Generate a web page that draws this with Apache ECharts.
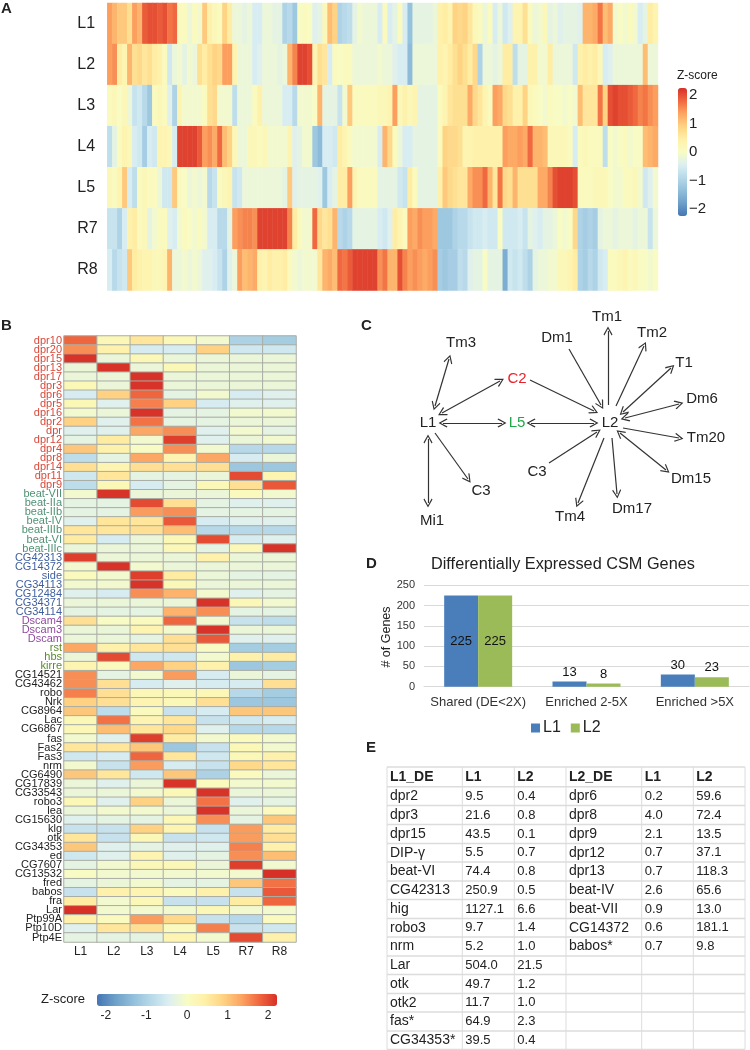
<!DOCTYPE html>
<html><head><meta charset="utf-8">
<style>html,body{margin:0;padding:0;background:#fff}#c{width:750px;height:1050px}</style>
<script src="https://cdn.jsdelivr.net/npm/echarts@6/dist/echarts.min.js"></script>
</head><body><div id="c"></div>
<script>
// ---------- Panel A: z-score x 10, one value per column ----------
const aRows = ['L1','L2','L3','L4','L5','R7','R8'];
const aL1 = [14,12,10,10,7,14,12,19,20,20, 19,20,17,18,1,1,-2,1,-1,10, 4,2,1,9,5,-2,-2,-3,-2,-5, -5,-2,-2,-3,-3,-10,-9,-12,0,1, 0,-4,-3,2,11,9,-10,-9,-8,-3, -1,-2,-2,-2,-5,1,-5,-3,1,-5, -13,-3,-3,-3,-3,-2,4,5,3,9, 8,9,6,2,1,-2,1,-5,-2,-6, -4,3,3,7,1,-2,-1,2,-3,-2, -4,-3,-3,-3,-4,12,12,13,17,11, 13,-1,0,-1,1,-1,-5,-3,5,3];
const aL2 = [14,15,5,3,12,7,8,6,7,5, 4,1,-6,-2,-1,-3,-1,-2,7,5, 7,9,8,14,14,3,-2,-2,-2,-5, -4,-2,-2,-2,-3,-2,12,16,21,21, 20,3,7,6,-5,1,0,1,1,-2, -2,-2,-2,-2,-1,-2,-2,-4,-5,-5, -14,-2,-2,-2,-2,-2,4,3,5,7, 9,7,5,8,-10,-2,-2,-3,-2,5, 5,-8,-3,-3,4,4,-1,-1,5,-2, -2,-2,-2,-6,4,5,4,5,2,-5, -4,-2,-2,-2,-2,-2,-2,11,-2,-2];
const aL3 = [1,2,0,2,-2,-7,-6,-9,-12,1, 2,1,-4,-10,3,-1,-1,-1,-1,1, 7,8,-1,-1,-1,-8,-2,-2,-2,1, 4,-2,-2,-2,-2,-5,-5,-9,-1,-1, -1,0,12,-3,-3,-3,-7,-1,10,1, 1,1,1,1,2,2,3,14,2,4, 2,3,-3,-3,-3,-3,1,3,6,7, 7,7,13,8,6,3,1,14,13,8, 7,4,4,9,2,1,0,-1,1,0, 0,-1,0,-1,11,6,6,6,17,9, 20,21,20,20,19,18,16,17,15,14];
const aL4 = [-8,-3,1,3,2,-5,-6,-11,-5,-6, 3,3,2,-5,21,21,21,21,19,14, 15,13,18,11,9,2,-2,-2,2,2, 1,2,-1,-1,-1,-1,3,-4,-3,-1, -1,-12,-14,-5,-5,-6,5,3,1,-1, -1,-1,-1,-1,-5,12,8,1,-2,-5, -5,-3,-3,-3,-3,-3,1,9,8,8, 7,3,3,4,4,4,4,4,4,14, 13,13,14,13,18,12,12,11,2,2, 2,2,1,-5,1,2,1,1,1,-8, 0,-1,0,1,-1,0,0,11,12,13];
const aL5 = [2,1,3,10,-5,-8,1,2,1,1, -2,-6,-6,10,1,0,-2,-1,-2,-1, -9,-7,1,2,3,-7,-6,-2,-2,-2, -2,-2,-2,-2,-2,-3,10,-4,-3,-3, -3,-3,-4,-12,-5,-3,5,5,14,3, 1,1,1,1,-3,-3,-3,-3,-6,-7, 5,1,-3,-3,-3,-3,4,10,8,7, 6,6,13,15,15,18,12,6,17,8, 7,12,7,7,7,7,13,13,16,20, 21,21,21,20,1,1,1,2,2,2, 0,-1,-1,1,1,2,-1,-6,-4,-1];
const aR7 = [-7,-7,-10,-5,4,5,1,2,-3,-1, 1,1,-4,-5,-1,1,0,-1,1,-1, -5,-5,-9,-9,-3,14,15,16,16,15, 21,21,21,21,21,21,16,5,1,-1, -1,18,8,6,7,12,-9,-10,-9,-3, -3,-3,-3,-3,-5,-6,-4,5,3,1, 14,13,15,14,14,13,-12,-12,-12,-10, -9,-9,-7,-6,-6,-5,-6,-6,0,-6, -6,-6,-5,-7,-3,-4,-5,-3,-3,-2, 0,-1,0,8,-10,-11,-10,-11,-3,-2, -2,-3,-2,-2,-2,-3,-2,-2,-7,-2];
const aR8 = [-5,-9,-7,-6,10,5,4,3,3,2, 2,3,12,-2,-2,-1,-2,-1,-2,-4, -4,-5,-7,-10,-4,-2,14,11,12,13, 4,3,5,4,4,5,1,-1,-2,-1, -1,-1,6,12,13,11,18,17,19,21, 21,21,21,21,15,17,12,12,20,16, 14,15,14,13,14,15,-11,-12,-11,-11, -8,-9,-4,-3,-3,0,-3,-3,-3,-16, -6,-7,-6,-8,-10,-3,-2,-2,-1,-1, 2,2,3,5,-10,-11,-9,-10,-6,-5, 1,1,2,3,1,2,0,0,-1,0];
const aValues = [aL1,aL2,aL3,aL4,aL5,aR7,aR8];

// ---------- Panel B ----------
const bCols = ['L1','L2','L3','L4','L5','R7','R8'];
const bGenes = ['dpr10','dpr20','dpr15','dpr13','dpr17','dpr3','dpr6','dpr5','dpr16','dpr2','dpr','dpr12','dpr4','dpr8','dpr14','dpr11','dpr9','beat-VII','beat-IIa','beat-IIb','beat-IV','beat-IIIb','beat-VI','beat-IIIc','CG42313','CG14372','side','CG34113','CG12484','CG34371','CG34114','Dscam4','Dscam3','Dscam','rst','hbs','kirre','CG14521','CG43462','robo','Nrk','CG8964','Lac','CG6867','fas','Fas2','Fas3','nrm','CG6490','CG17839','CG33543','robo3','lea','CG15630','klg','otk','CG34353','ed','CG7607','CG13532','fred','babos','fra','Lar','Ptp99A','Ptp10D','Ptp4E'];
const bGroups = [[17,'#d8493a'],[7,'#4f9273'],[7,'#3f5f9f'],[3,'#8e4a9e'],[3,'#5a8a2a'],[30,'#222222']];
const bValues = [
[1.8,.2,.6,.2,-.1,-1,-1.1],[1.5,.4,-.5,-.5,.9,-.6,-.6],[2.2,-.2,.2,-.2,-.2,-.2,-.2],[-.2,2.2,-.2,.2,-.2,-.2,-.2],[-.2,-.2,2.2,-.2,-.2,-.2,-.2],
[.2,-.2,2.2,-.2,-.2,-.2,-.2],[-.5,.9,1.8,-.3,-.1,-.5,-.4],[.2,-.4,1.6,.9,-.5,-.4,-.4],[-.1,-.2,2.2,-.3,-.3,-.1,-.1],[.9,-.4,1.7,-.3,-.3,-.2,-.2],
[-.4,-.4,1.3,1.5,-.4,-.1,-.3],[-.3,.5,-.1,2.1,-.4,-.2,-.1],[1.0,.4,0,1.5,-.1,-.9,-.9],[-.8,-.3,1.3,.3,1.3,-.5,-.2],[.7,.3,.7,.7,.7,-1.2,-1.2],
[-.6,.6,-.3,-.3,-.2,2.0,.3],[-.8,.2,-.5,-.3,.2,.7,1.9],[-.1,2.2,-.2,-.2,-.2,.1,-.1],[-.3,-.3,2.0,.7,-.3,-.4,-.4],[-.3,-.3,1.4,1.5,-.3,-.3,-.3],
[-.4,.6,.6,1.9,-.5,-.4,-.4],[.6,.6,.7,1.1,-.9,-.9,-.9],[.5,-.5,-.2,.2,2.0,-.5,-.4],[-.2,-.2,-.2,.2,-.3,.2,2.2],[2.1,-.2,-.2,-.2,.4,-.2,-.2],
[-.1,2.2,-.1,-.2,-.2,-.2,-.2],[.1,-.1,2.1,.5,-.2,-.3,-.3],[-.1,-.1,2.2,.2,-.2,-.2,-.2],[-.4,-.5,1.5,1.2,-.1,-.4,-.3],[-.2,-.2,-.2,-.2,2.2,.2,-.1],
[-.3,-.3,-.3,1.2,1.5,-.3,-.3],[.7,0,.1,1.8,-.1,-.7,-.8],[-.2,-.2,.3,-.1,2.2,-.2,-.2],[-.2,-.2,-.3,.7,1.9,-.4,-.4],[1.3,.4,.6,.7,0,-1.1,-1.1],
[-.2,2.0,-.6,-.6,-.1,.4,.5],[.3,.1,1.3,.9,.4,-1.2,-1.1],[1.5,-.3,-.1,1.4,-.5,-.2,-.3],[1.5,.7,-.5,-.4,-.5,-.5,.7],[1.6,.7,.2,.2,.2,-.9,-1.1],
[.9,.7,.3,.2,.7,-1.2,-1.2],[1.0,-.8,.1,-.7,-.5,1.0,1.0],[.2,1.7,.3,.6,-.7,-.6,-.5],[.2,1.1,.6,.8,-.4,-.9,-.9],[-.1,-.4,2.1,.5,-.1,.1,-.1],
[.6,.6,1.0,-1.2,-.7,.2,-.1],[-.6,-.5,1.8,.6,-.6,.2,.4],[-.1,-.7,1.4,-.5,-.7,.8,.6],[1.0,.6,-.6,1.0,-1.0,.1,-.2],[-.2,-.4,-.2,2.2,.1,-.1,-.1],
[-.2,-.2,-.1,.2,2.2,-.2,-.2],[.2,-.4,.9,-.2,1.7,-.4,-.3],[-.2,-.1,-.1,-.2,2.2,-.2,.1],[-.4,-.3,-.3,.2,1.5,-.3,1.0],[-.7,-.7,.9,.3,-.7,1.4,.5],
[.6,-.7,.2,-.7,-.6,1.4,.7],[1.0,-.4,-.3,-.4,-.4,1.6,.4],[-.6,-.4,.3,-.4,-.3,1.5,1.1],[-.3,-.1,.2,.2,-.2,2.1,-.1],[0,-.1,-.1,-.1,-.1,-.1,2.3],
[-.3,-.2,-.1,-.3,-.3,1.0,1.7],[-.7,.4,.3,.1,.4,-.7,1.9],[.5,-.1,.2,-.7,-.7,.5,1.8],[2.3,-.1,-.1,-.1,.2,-.1,-.1],[.4,.1,1.4,.8,-.7,-.9,.1],
[-.4,.6,.7,.1,1.6,-.7,-.6],[-.3,-.3,-.3,.3,-.1,2.0,.4]];

// ---------- Panel C ----------
const cNeurons = ['L1','L5','C2','L2','Tm3','Dm1','Tm1','Tm2','T1','Dm6','Tm20','Dm15','Dm17','Tm4','C3','C3','Mi1'];
const cNeuronColors = {L5:'#1fa84a',C2:'#e8222a'};
const cLinks = [['L1','Tm3',2],['L1','C2',2],['L1','L5',2],['L1','Mi1',2],['L1','C3',1],['C2','L2',1],['L5','L2',2],['Dm1','L2',1],['L2','Tm1',1],['L2','Tm2',1],['L2','T1',2],['L2','Dm6',2],['L2','Tm20',1],['L2','Dm15',2],['L2','Dm17',1],['L2','Tm4',1],['C3','L2',1]];
// layout of the diagram (page pixels)
const cNodePos = [[428,423],[517,423],[517,379],[610,423],[461,343],[557,338],[607,317],[652,333],[684,363],[702,399],[706,438],[691,479],[632,509],[570,517],[537,472],[481,491],[432,521]];
const cLinkEnds = [[435,406,449,359],[442,413,500,381],[443,423,502,423],[428,439,428,503],[435,433,468,479],[530,380,594,411],[531,423,594,423],[569,349,601,405],[608,405,608,331],[616,406,644,346],[623,412,671,368],[625,418,679,404],[623,428,679,438],[620,433,666,470],[612,438,617,494],[604,438,578,503],[549,463,597,432]];

// ---------- Panel D ----------
const dCats = ['Shared (DE<2X)','Enriched 2-5X','Enriched >5X'];
const dL1 = [225,13,30];
const dL2 = [225,8,23];

// ---------- Panel E ----------
const eHeader = ['L1_DE','L1','L2','L2_DE','L1','L2'];
const eLeft = [['dpr2','9.5','0.4'],['dpr3','21.6','0.8'],['dpr15','43.5','0.1'],['DIP-γ','5.5','0.7'],['beat-VI','74.4','0.8'],['CG42313','250.9','0.5'],['hig','1127.1','6.6'],['robo3','9.7','1.4'],['nrm','5.2','1.0'],['Lar','504.0','21.5'],['otk','49.7','1.2'],['otk2','11.7','1.0'],['fas*','64.9','2.3'],['CG34353*','39.5','0.4']];
const eRight = [['dpr6','0.2','59.6'],['dpr8','4.0','72.4'],['dpr9','2.1','13.5'],['dpr12','0.7','37.1'],['dpr13','0.7','118.3'],['beat-IV','2.6','65.6'],['beat-VII','0.9','13.0'],['CG14372','0.6','181.1'],['babos*','0.7','9.8']];

// ---------- Styles / layout ----------
const FONT = '"Liberation Sans", Arial, sans-serif';
const INK = '#222222';
const ramp = ['#4575b4','#6d9fc8','#91bfdb','#b7d9e9','#dceff2','#f8fcc4','#fff0a8','#fed383','#fca562','#f0683f','#d73027'];
const tableX = [387,462.3,514.3,566,641.7,693.3,745];
const tableY = [767,786.7,805.5,824.5,843.5,862,881,899.5,918.5,937,956,974.5,993.5,1012,1031,1049.5];

const aData = [];
aValues.forEach((row,r)=>row.forEach((v,c)=>aData.push([c,r,v/10])));
const bData = [];
bValues.forEach((row,r)=>row.forEach((v,c)=>bData.push([c,r,v])));
const bColor = [];
bGroups.forEach(([n,col])=>{for(let i=0;i<n;i++)bColor.push(col);});

// graph nodes: labelled neurons, then one hidden anchor per link end, then page corners
const gNodes = cNeurons.map((n,i)=>({id:'n'+i,name:n,x:cNodePos[i][0],y:cNodePos[i][1],symbolSize:1,
  itemStyle:{color:'rgba(0,0,0,0)'},label:{show:true,position:'inside',formatter:n,color:cNeuronColors[n]||INK,fontSize:15,fontFamily:FONT}}));
const gLinks = [];
const chevron = 'path://M5,0 L10,9 L9,10 L5,2.6 L1,10 L0,9 Z';
cLinkEnds.forEach((e,i)=>{
  gNodes.push({id:'a'+i,x:e[0],y:e[1],symbolSize:0,label:{show:false}});
  gNodes.push({id:'b'+i,x:e[2],y:e[3],symbolSize:0,label:{show:false}});
  gLinks.push({source:'a'+i,target:'b'+i,symbol:[cLinks[i][2]===2?chevron:'none',chevron],symbolSize:9});
});
gNodes.push({id:'c0',x:0,y:0,symbolSize:0,label:{show:false}},{id:'c1',x:750,y:1050,symbolSize:0,label:{show:false}});

const texts = [];
const T=(x,y,s,o={})=>texts.push({type:'text',x,y,silent:true,style:Object.assign({text:s,fill:INK,font:`13px ${FONT}`,textAlign:'left',textVerticalAlign:'middle'},o)});
T(1,9,'A',{font:`bold 15px ${FONT}`});T(1,326,'B',{font:`bold 15px ${FONT}`});T(361,326,'C',{font:`bold 15px ${FONT}`});T(366,564,'D',{font:`bold 15px ${FONT}`});T(366,748,'E',{font:`bold 15px ${FONT}`});
T(677,76,'Z-score',{font:`12px ${FONT}`});
T(41,999,'Z-score',{font:`13px ${FONT}`});
T(387,637,'# of Genes',{font:`12.5px ${FONT}`,textAlign:'center'});
texts[texts.length-1].rotation=Math.PI/2;

// table lines
tableX.forEach(x=>texts.push({type:'line',silent:true,shape:{x1:x,y1:tableY[0],x2:x,y2:tableY[tableY.length-1]},style:{stroke:'#dcdcdc',lineWidth:1}}));
tableY.forEach(y=>texts.push({type:'line',silent:true,shape:{x1:tableX[0],y1:y,x2:tableX[6],y2:y},style:{stroke:'#dcdcdc',lineWidth:1.5}}));
const rowMid = i=>(tableY[i]+tableY[i+1])/2;
eHeader.forEach((h,c)=>T(tableX[c]+3,rowMid(0),h,{font:`bold 14px ${FONT}`}));
eLeft.forEach((r,i)=>r.forEach((s,c)=>T(tableX[c]+3,rowMid(i+1),s,{font:`${c===0?14:13}px ${FONT}`})));
eRight.forEach((r,i)=>r.forEach((s,c)=>T(tableX[c+3]+3,rowMid(i+1),s,{font:`${c===0?14:13}px ${FONT}`})));

const barLabel = v=>({value:v,label:{position:v>100?'inside':'top'}});
const barSeries=(name,vals,color)=>({type:'bar',name,data:vals.map(barLabel),xAxisIndex:4,yAxisIndex:4,barWidth:34,barGap:'0%',itemStyle:{color},
  label:{show:true,color:'#111',fontSize:13,fontFamily:FONT,distance:3}});

const option = {
  animation:false,
  backgroundColor:'#fff',
  textStyle:{fontFamily:FONT},
  title:{text:'Differentially Expressed CSM Genes',left:431,top:557,padding:0,textStyle:{fontSize:16.3,fontWeight:'normal',color:INK,fontFamily:FONT}},
  legend:{data:['L1','L2'],left:531,top:720,padding:0,itemWidth:9,itemHeight:9,itemGap:10,icon:'rect',selectedMode:false,textStyle:{fontSize:16,color:INK,fontFamily:FONT,padding:[0,0,0,-2]}},
  grid:[
    {left:107.3,top:3,width:550.7,height:287.5},
    {left:678,top:88,width:9,height:128},
    {left:64,top:336,width:232,height:606},
    {left:97,top:994,width:180,height:12},
    {left:424,top:585.3,width:325,height:101.4}
  ],
  xAxis:[
    {gridIndex:0,type:'category',data:aValues[0].map((_,i)=>i),show:false},
    {gridIndex:1,type:'value',min:0,max:1,show:false},
    {gridIndex:2,type:'category',data:bCols,axisLine:{show:false},axisTick:{show:false},axisLabel:{interval:0,fontSize:12,color:INK,margin:4,fontFamily:FONT}},
    {gridIndex:3,type:'value',min:-2.22,max:2.22,position:'bottom',splitLine:{show:false},axisLine:{show:false},axisTick:{show:false},
      axisLabel:{customValues:[-2,-1,0,1,2],fontSize:12,color:INK,margin:4,fontFamily:FONT}},
    {gridIndex:4,type:'category',data:dCats,axisLine:{lineStyle:{color:'#d9d9d9'}},axisTick:{show:false},axisLabel:{interval:0,fontSize:13,color:'#333',margin:9,fontFamily:FONT}}
  ],
  yAxis:[
    {gridIndex:0,type:'category',data:aRows,inverse:true,axisLine:{show:false},axisTick:{show:false},axisLabel:{interval:0,fontSize:16,color:INK,align:'left',margin:30,fontFamily:FONT}},
    {gridIndex:1,type:'value',min:-2.245,max:2.245,position:'right',splitLine:{show:false},axisLine:{show:false},axisTick:{show:false},
      axisLabel:{customValues:[-2,-1,0,1,2],fontSize:15,color:INK,margin:2,align:'left',fontFamily:FONT,formatter:v=>String(v).replace('-','\u2212')}},
    {gridIndex:2,type:'category',data:bGenes,inverse:true,axisLine:{show:false},axisTick:{show:false},
      axisLabel:{interval:0,fontSize:11,margin:2,fontFamily:FONT,color:(v,i)=>bColor[i]}},
    {gridIndex:3,type:'value',min:0,max:1,show:false},
    {gridIndex:4,type:'value',min:0,max:250,interval:50,axisLine:{show:false},axisTick:{show:false},splitLine:{lineStyle:{color:'#d9d9d9',width:1}},axisLabel:{fontSize:11,color:'#333',margin:9,fontFamily:FONT}}
  ],
  visualMap:[
    {type:'continuous',seriesIndex:0,dimension:2,min:-2.245,max:2.245,orient:'vertical',left:678,top:88,itemWidth:9,itemHeight:128,padding:0,text:null,calculable:false,hoverLink:false,realtime:false,inRange:{color:ramp},showLabel:false,textStyle:{fontSize:0}},
    {type:'continuous',seriesIndex:1,dimension:2,min:-2.22,max:2.22,orient:'horizontal',left:97,top:994,itemWidth:12,itemHeight:180,padding:0,text:null,calculable:false,hoverLink:false,realtime:false,inRange:{color:ramp},showLabel:false,textStyle:{fontSize:0}}
  ],
  series:[
    {type:'heatmap',xAxisIndex:0,yAxisIndex:0,data:aData,progressive:0,itemStyle:{borderWidth:0}},
    {type:'heatmap',xAxisIndex:2,yAxisIndex:2,data:bData,progressive:0,itemStyle:{borderColor:'#a9ada5',borderWidth:1}},
    {type:'scatter',xAxisIndex:1,yAxisIndex:1,data:[]},
    {type:'scatter',xAxisIndex:3,yAxisIndex:3,data:[]},
    barSeries('L1',dL1,'#4a7ebb'),
    barSeries('L2',dL2,'#9bbb59'),
    {type:'graph',layout:'none',left:0,top:0,width:750,height:1050,roam:false,silent:true,nodeScaleRatio:0,data:gNodes,links:gLinks,
      lineStyle:{color:'#333333',width:1.2,opacity:1,curveness:0},edgeSymbolSize:9}
  ],
  graphic:{elements:texts}
};
const chart = echarts.init(document.getElementById('c'),null,{renderer:'canvas'});
chart.setOption(option);
</script></body></html>
